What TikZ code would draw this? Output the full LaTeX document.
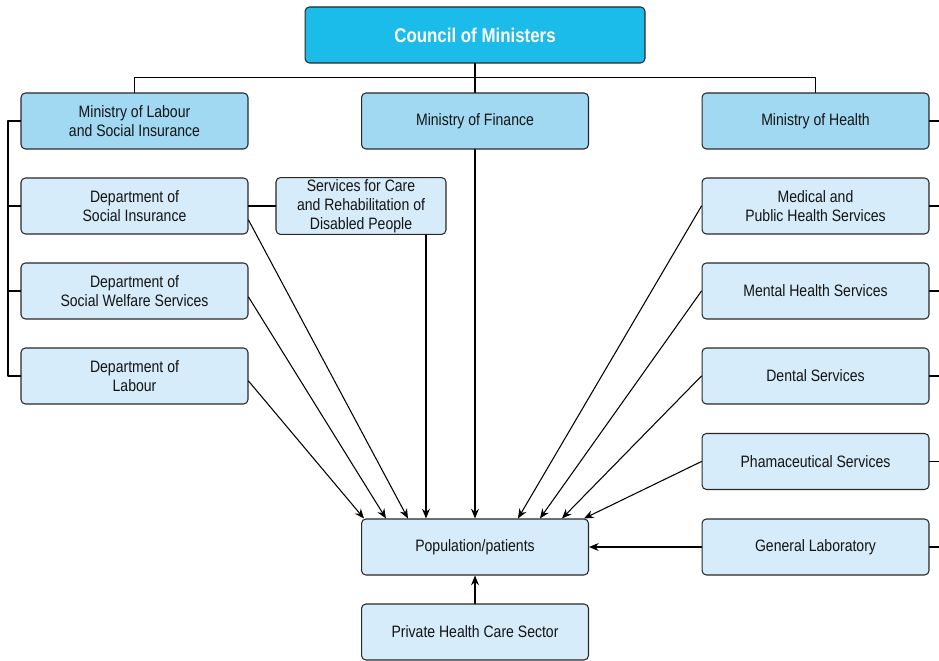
\documentclass[tikz,border=0pt]{standalone}
\usepackage{fontspec}
\setmainfont{Liberation Sans}[FakeStretch=0.85]
\usetikzlibrary{arrows.meta}
\definecolor{topblue}{RGB}{27,187,234}
\definecolor{minblue}{RGB}{161,217,243}
\definecolor{depblue}{RGB}{214,236,250}
\definecolor{edgegray}{RGB}{40,40,40}

\begin{document}
\begin{tikzpicture}[line cap=round,line join=round,>={Stealth[length=5.5pt,width=4.5pt]},x=0.02cm,y=-0.02cm,
	box/.style={draw=edgegray,line width=0.6pt,rounded corners=2.5pt,minimum width=4.54cm,minimum height=1.12cm,
		align=center,inner sep=1pt,font=\fontsize{9.4}{10.8}\selectfont,text=black!92},
	topbox/.style={box,fill=topblue,minimum width=6.8cm,text=white,font=\fontsize{11.3}{13}\selectfont\bfseries},
	minbox/.style={box,fill=minblue},
	depbox/.style={box,fill=depblue},
	link/.style={line width=0.6pt,draw=black},
	arr/.style={link,->}]
	\useasboundingbox (0,0) rectangle (939,661);
	% boxes
	\node[topbox] (council) at (475,35) {Council of Ministers};
	\node[minbox] (labmin) at (134.5,121) {Ministry of Labour\\and Social Insurance};
	\node[minbox] (finmin) at (475,121) {Ministry of Finance};
	\node[minbox] (hlthmin) at (815.5,121) {Ministry of Health};
	\node[depbox] (socins) at (134.5,206) {Department of\\Social Insurance};
	\node[depbox,minimum width=3.4cm] (care) at (361,206) {Services for Care\\and Rehabilitation of\\Disabled People};
	\node[depbox] (welfare) at (134.5,291) {Department of\\Social Welfare Services};
	\node[depbox] (labour) at (134.5,376) {Department of\\Labour};
	\node[depbox] (medical) at (815.5,206) {Medical and\\Public Health Services};
	\node[depbox] (mental) at (815.5,291) {Mental Health Services};
	\node[depbox] (dental) at (815.5,376) {Dental Services};
	\node[depbox] (pharma) at (815.5,461.5) {Phamaceutical Services};
	\node[depbox] (genlab) at (815.5,547) {General Laboratory};
	\node[depbox] (pop) at (475,547) {Population/patients};
	\node[depbox] (private) at (475,632) {Private Health Care Sector};
	\coordinate (lbar) at (8,0);
	\coordinate (redge) at (939,0);
	% tree lines
	\draw[link] (council.south) -- (finmin.north);
	\draw[link] (labmin.north) -- ++(0,-15) -| (hlthmin.north);
	\draw[link] (labmin.west) -- (labmin.west -| lbar) |- (labour.west);
	\draw[link] (socins.west) -- (socins.west -| lbar);
	\draw[link] (welfare.west) -- (welfare.west -| lbar);
	\draw[link] (socins.east) -- (care.west);
	\foreach \n in {hlthmin,medical,mental,dental,pharma,genlab}
		\draw[link] (\n.east) -- (\n.east -| redge);
	% arrows to population
	\draw[arr] ([yshift=-0.1cm]labour.east) -- ([xshift=0.06cm]pop.north west);
	\draw[arr] ([yshift=-0.12cm]welfare.east) -- ([xshift=0.5cm]pop.north west);
	\draw[arr] ([yshift=-0.28cm]socins.east) -- ([xshift=0.94cm]pop.north west);
	\draw[arr] (care.south -| pop.north west) ++(1.3cm,0) coordinate (cs) (cs) -- (cs |- pop.north);
	\draw[arr] (finmin.south) -- (pop.north);
	\draw[arr] (medical.west) -- ([xshift=3.14cm]pop.north west);
	\draw[arr] (mental.west) -- ([xshift=3.58cm]pop.north west);
	\draw[arr] (dental.west) -- ([xshift=4.02cm]pop.north west);
	\draw[arr] (pharma.west) -- ([xshift=4.46cm]pop.north west);
	\draw[arr] (genlab.west) -- (pop.east);
	\draw[arr] (private.north) -- (pop.south);
\end{tikzpicture}
\end{document}
